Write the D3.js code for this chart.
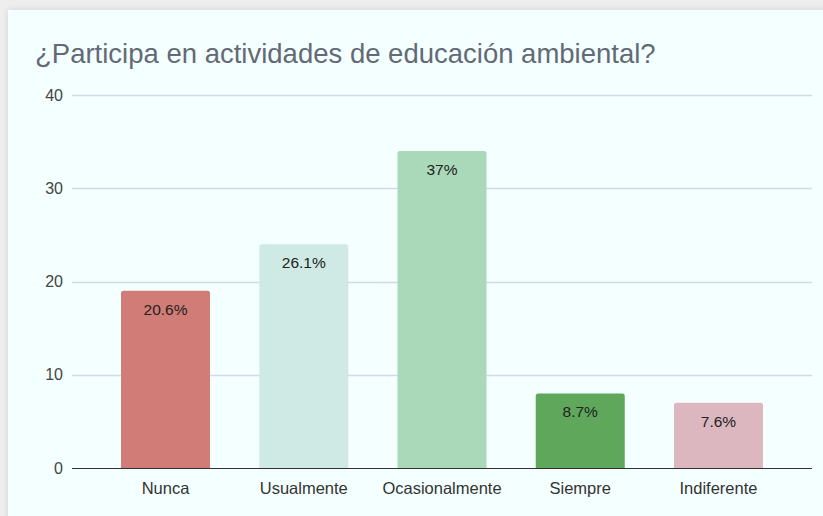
<!DOCTYPE html>
<html>
<head>
<meta charset="utf-8">
<script src="https://cdn.jsdelivr.net/npm/d3@7"></script>
<style>
  html, body { margin: 0; padding: 0; background: #eeeeee; }
  svg { display: block; }
</style>
</head>
<body>
<svg id="chart" width="823" height="516"></svg>
<script>
// Survey responses: "¿Participa en actividades de educación ambiental?"
const categories = ["Nunca", "Usualmente", "Ocasionalmente", "Siempre", "Indiferente"];
const counts = [19, 24, 34, 8, 7];
const pctLabels = ["20.6%", "26.1%", "37%", "8.7%", "7.6%"];
const barColors = ["#d17c76", "#cfeae4", "#a9d9b9", "#5fa85b", "#dcb7bf"];
const yTicks = [0, 10, 20, 30, 40];
const title = "¿Participa en actividades de educación ambiental?";

const FONT = "'Liberation Sans', Arial, sans-serif";

const data = categories.map((c, i) => ({
  category: c,
  value: counts[i],
  color: barColors[i],
  label: pctLabels[i]
}));

const svg = d3.select("#chart");

// Card with a soft shadow
const defs = svg.append("defs");
const f = defs.append("filter").attr("id", "shadow")
  .attr("x", "-5%").attr("y", "-5%").attr("width", "110%").attr("height", "110%");
f.append("feDropShadow").attr("dx", 0).attr("dy", 0)
  .attr("stdDeviation", 3).attr("flood-color", "#000").attr("flood-opacity", 0.12);

svg.append("rect")
  .attr("x", 8).attr("y", 10).attr("width", 830).attr("height", 520)
  .attr("fill", "#f4ffff").attr("filter", "url(#shadow)");

svg.append("text")
  .attr("x", 35).attr("y", 63)
  .attr("font-family", FONT)
  .attr("font-size", 27.5)
  .attr("fill", "#636a76")
  .text(title);

const plot = { left: 72, right: 812, top: 95, bottom: 468 };

const x = d3.scaleBand()
  .domain(categories)
  .range([121, 763])
  .paddingInner(0.356)
  .paddingOuter(0);

const y = d3.scaleLinear()
  .domain([0, 40])
  .range([plot.bottom, plot.top]);

// Horizontal gridlines
svg.append("g")
  .selectAll("line")
  .data(yTicks.filter(t => t !== 0))
  .join("line")
  .attr("x1", plot.left).attr("x2", plot.right)
  .attr("y1", d => Math.round(y(d)) + 0.5)
  .attr("y2", d => Math.round(y(d)) + 0.5)
  .attr("stroke", "#d0dae8").attr("stroke-width", 1.5);

// Y axis labels
const yAxis = d3.axisLeft(y).tickValues(yTicks).tickSize(0).tickPadding(9);
const gy = svg.append("g").attr("transform", `translate(${plot.left},0)`).call(yAxis);
gy.select(".domain").remove();
gy.selectAll("text")
  .attr("font-family", FONT)
  .attr("font-size", 16)
  .attr("fill", "#444");

// Bars with slightly rounded top corners
const r = 2.5;
svg.append("g")
  .selectAll("path")
  .data(data)
  .join("path")
  .attr("fill", d => d.color)
  .attr("d", d => {
    const x0 = x(d.category), x1 = x0 + x.bandwidth();
    const y0 = y(0), y1 = y(d.value);
    return `M${x0},${y0} L${x0},${y1 + r} Q${x0},${y1} ${x0 + r},${y1} ` +
           `L${x1 - r},${y1} Q${x1},${y1} ${x1},${y1 + r} L${x1},${y0} Z`;
  });

// Value labels inside bars
svg.append("g")
  .selectAll("text")
  .data(data)
  .join("text")
  .attr("x", d => x(d.category) + x.bandwidth() / 2)
  .attr("y", d => y(d.value) + 24)
  .attr("text-anchor", "middle")
  .attr("font-family", FONT)
  .attr("font-size", 15.5)
  .attr("fill", "#222")
  .text(d => d.label);

// Baseline
svg.append("line")
  .attr("x1", plot.left).attr("x2", plot.right)
  .attr("y1", y(0) + 0.5).attr("y2", y(0) + 0.5)
  .attr("stroke", "#333").attr("stroke-width", 1);

// X axis category labels
const xAxis = d3.axisBottom(x).tickSize(0).tickPadding(14);
const gx = svg.append("g").attr("transform", `translate(0,${plot.bottom})`).call(xAxis);
gx.select(".domain").remove();
gx.selectAll("text")
  .attr("font-family", FONT)
  .attr("font-size", 16.5)
  .attr("fill", "#333");
</script>
</body>
</html>
